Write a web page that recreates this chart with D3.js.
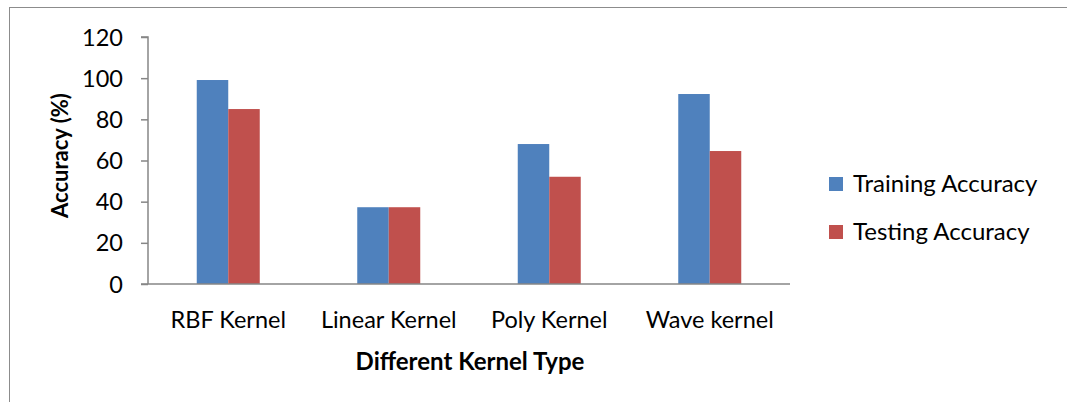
<!DOCTYPE html>
<html>
<head>
<meta charset="utf-8">
<script src="https://cdn.jsdelivr.net/npm/d3@7"></script>
<style>
  html, body { margin: 0; padding: 0; background: #fff; }
  svg { display: block; }
  text { font-family: Lato, "Open Sans", sans-serif; fill: #000; }
</style>
</head>
<body>
<svg id="chart" width="1067" height="402"></svg>
<script>
// Kernel comparison data
const categories = ["RBF Kernel", "Linear Kernel", "Poly Kernel", "Wave kernel"];
const seriesNames = ["Training Accuracy", "Testing Accuracy"];
const trainingAccuracy = [99.1, 37.3, 68.0, 92.3];
const testingAccuracy = [85.0, 37.3, 52.1, 64.6];
const yTicks = [0, 20, 40, 60, 80, 100, 120];
const colors = ["#4F81BD", "#C0504D"];

const svg = d3.select("#chart");
const W = 1067, H = 402;

// chart border
svg.append("rect")
  .attr("x", 9.5).attr("y", 7.5)
  .attr("width", W + 20).attr("height", H + 20)
  .attr("fill", "none").attr("stroke", "#8c8c8c").attr("stroke-width", 1);

const plot = { left: 148, right: 790, top: 37, bottom: 284 };

const x = d3.scaleBand().domain(categories).range([plot.left, plot.right]);
const bandInner = 63; // width of the bar pair within each category
const xs = d3.scaleBand().domain(seriesNames).range([0, bandInner]);

const y = d3.scaleLinear().domain([0, 120]).range([plot.bottom, plot.top]);

const series = [trainingAccuracy, testingAccuracy];

// bars
seriesNames.forEach((name, si) => {
  svg.append("g").selectAll("rect")
    .data(categories.map((c, i) => ({ c, v: series[si][i] })))
    .join("rect")
    .attr("x", d => x(d.c) + (x.bandwidth() - bandInner) / 2 + xs(name))
    .attr("y", d => y(d.v))
    .attr("width", xs.bandwidth())
    .attr("height", d => y(0) - y(d.v))
    .attr("fill", colors[si]);
});

// y axis
const yAxis = d3.axisLeft(y).tickValues(yTicks).tickSize(7).tickPadding(18);
const gy = svg.append("g").attr("transform", `translate(${plot.left},0)`).call(yAxis);
gy.select(".domain").attr("stroke", "#868686").attr("stroke-width", 1.5)
  .attr("d", `M-7,${plot.top}H0V${plot.bottom}`);
gy.selectAll(".tick line").attr("stroke", "#868686").attr("stroke-width", 1.5);
gy.selectAll(".tick text")
  .style("font-size", "23.5px").style("font-family", "Lato, sans-serif")
  .attr("fill", "#000").attr("dy", "0.34em");

// x axis baseline and category labels
const xAxis = d3.axisBottom(x).tickSize(0).tickPadding(0);
const gx = svg.append("g").attr("transform", `translate(0,${plot.bottom})`).call(xAxis);
gx.select(".domain").attr("stroke", "#868686").attr("stroke-width", 1.5)
  .attr("d", `M${plot.left - 7},0H${plot.right}`);
gx.selectAll(".tick text")
  .style("font-size", "23.5px").style("font-family", "Lato, sans-serif")
  .attr("fill", "#000").attr("y", 44).attr("dy", 0);

// axis titles
svg.append("text")
  .attr("transform", `translate(68,155.5) rotate(-90)`)
  .attr("text-anchor", "middle")
  .style("font-size", "22px").style("font-weight", "bold")
  .text("Accuracy (%)");

svg.append("text")
  .attr("x", 470).attr("y", 370)
  .attr("text-anchor", "middle")
  .style("font-size", "24px").style("font-weight", "bold")
  .text("Different Kernel Type");

// legend
const legend = svg.append("g").attr("transform", "translate(829,177)");
seriesNames.forEach((name, i) => {
  const g = legend.append("g").attr("transform", `translate(0,${i * 48})`);
  g.append("rect").attr("width", 14).attr("height", 14).attr("fill", colors[i]);
  g.append("text").attr("x", 24).attr("y", 15)
    .style("font-size", "24px").text(name);
});
</script>
</body>
</html>
